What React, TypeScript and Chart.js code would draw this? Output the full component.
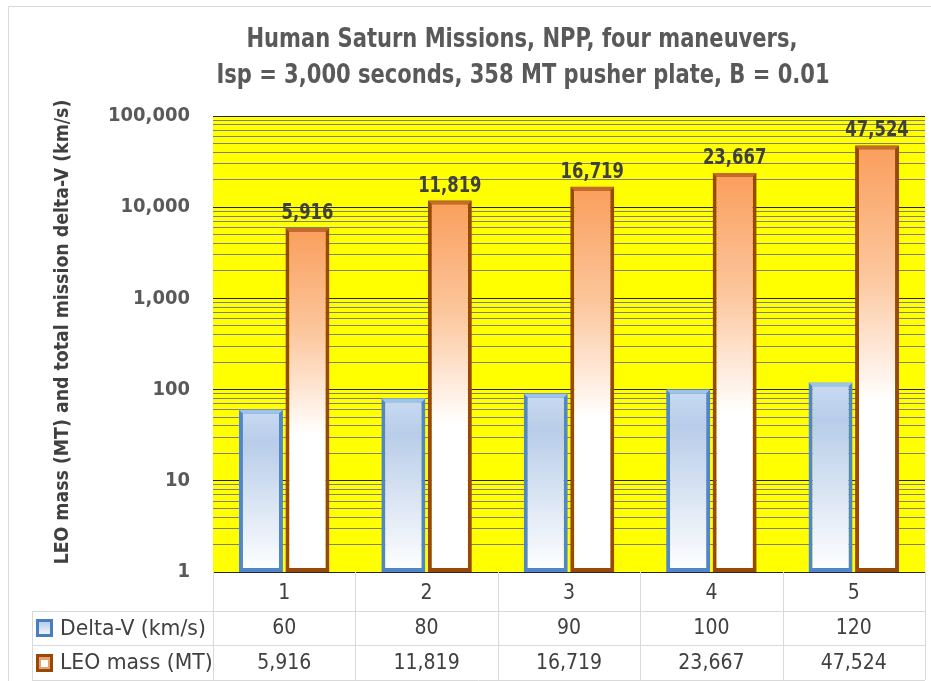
import React, { useEffect, useRef } from 'react';
import { Chart, registerables } from 'chart.js';

Chart.register(...registerables);

const categories = ['1', '2', '3', '4', '5'];
const deltaV = [60, 80, 90, 100, 120];
const leoMass = [5916, 11819, 16719, 23667, 47524];
const seriesNames = ['Delta-V (km/s)', 'LEO mass (MT)'];
const titleLines = [
  'Human Saturn Missions, NPP, four maneuvers,',
  'Isp = 3,000 seconds, 358 MT pusher plate, B = 0.01',
];
const yAxisTitle = 'LEO mass (MT) and total mission delta-V (km/s)';
const yTickValues = [1, 10, 100, 1000, 10000, 100000];

const FONT = '"Liberation Sans Narrow", "DejaVu Sans Condensed", "Open Sans", sans-serif';
const fmt = (v: number) => v.toLocaleString('en-US');

function drawText(ctx: any, text: string, x: number, y: number, font: string, color: string,
  align: string, baseline: string, sx: number) {
  ctx.save();
  ctx.translate(x, y);
  ctx.scale(sx, 1);
  ctx.font = font;
  ctx.fillStyle = color;
  ctx.textAlign = align;
  ctx.textBaseline = baseline;
  ctx.fillText(text, 0, 0);
  ctx.restore();
}

function gradientFor(ctx: any, kind: 'blue' | 'orange') {
  const chart = ctx.chart;
  const area = chart.chartArea;
  const fallback = kind === 'blue' ? '#c6d9f1' : '#f9b07a';
  if (!area || ctx.type !== 'data') return fallback;
  const yScale = chart.scales.y;
  const top = yScale.getPixelForValue(ctx.raw);
  const bottom = area.bottom;
  if (!isFinite(top)) return fallback;
  const g = chart.ctx.createLinearGradient(0, top, 0, bottom);
  if (kind === 'blue') {
    g.addColorStop(0, '#c9dbf2');
    g.addColorStop(0.2, '#b8cde9');
    g.addColorStop(1, '#ffffff');
  } else {
    g.addColorStop(0, '#fa9e5c');
    g.addColorStop(0.3, '#fcc69c');
    g.addColorStop(0.6, '#ffffff');
    g.addColorStop(1, '#ffffff');
  }
  return g;
}

const decorPlugin = {
  id: 'decor',
  beforeDraw(chart: any) {
    const { ctx, chartArea: a } = chart;
    ctx.save();
    ctx.fillStyle = '#ffffff';
    ctx.fillRect(0, 0, chart.width, chart.height);
    ctx.fillStyle = '#ffff00';
    ctx.fillRect(a.left, a.top, a.right - a.left, a.bottom - a.top);
    ctx.restore();
  },
  afterDatasetsDraw(chart: any) {
    const { ctx } = chart;
    ctx.save();
    chart.data.datasets.forEach((ds: any, di: number) => {
      const meta = chart.getDatasetMeta(di);
      meta.data.forEach((bar: any) => {
        const l = bar.x - bar.width / 2;
        const r = bar.x + bar.width / 2;
        const t = bar.y;
        ctx.fillStyle = di === 0 ? '#9cc2ee' : '#c46a2c';
        ctx.beginPath();
        ctx.moveTo(l, t);
        ctx.lineTo(r, t);
        ctx.lineTo(r - 4, t + 4);
        ctx.lineTo(l + 4, t + 4);
        ctx.closePath();
        ctx.fill();
      });
    });
    const meta = chart.getDatasetMeta(1);
    meta.data.forEach((bar: any, i: number) => {
      drawText(ctx, fmt(leoMass[i]), bar.x, bar.y - 9, `bold 21px ${FONT}`, '#404040',
        'center', 'alphabetic', 0.87);
    });
    ctx.restore();
  },
  afterDraw(chart: any) {
    const { ctx, chartArea: a } = chart;
    ctx.save();
    ctx.strokeStyle = '#d9d9d9';
    ctx.lineWidth = 1;
    ctx.beginPath();
    ctx.moveTo(8.5, chart.height);
    ctx.lineTo(8.5, 6.5);
    ctx.lineTo(chart.width, 6.5);
    ctx.stroke();

    drawText(ctx, titleLines[0], 522, 47, `bold 26px ${FONT}`, '#595959', 'center', 'alphabetic', 0.9);
    drawText(ctx, titleLines[1], 523, 83, `bold 26px ${FONT}`, '#595959', 'center', 'alphabetic', 0.9);

    ctx.save();
    ctx.translate(63, 332);
    ctx.rotate(-Math.PI / 2);
    drawText(ctx, yAxisTitle, 0, 0, `bold 20px ${FONT}`, '#404040', 'center', 'middle', 0.965);
    ctx.restore();

    const colW = (a.right - a.left) / categories.length;
    const r1 = a.bottom + 39;
    const r2 = a.bottom + 73;
    const r3 = a.bottom + 108;
    const tableLeft = 32;
    ctx.strokeStyle = '#d9d9d9';
    ctx.lineWidth = 1;
    ctx.beginPath();
    for (let i = 0; i <= categories.length; i++) {
      const x = Math.round(a.left + i * colW) + 0.5;
      ctx.moveTo(x, a.bottom);
      ctx.lineTo(x, r3);
    }
    [r1, r2, r3].forEach((y) => {
      ctx.moveTo(tableLeft, Math.round(y) + 0.5);
      ctx.lineTo(a.right, Math.round(y) + 0.5);
    });
    ctx.moveTo(tableLeft + 0.5, r1);
    ctx.lineTo(tableLeft + 0.5, r3);
    ctx.stroke();

    const rows = [
      { name: seriesNames[0], values: deltaV, y: (r1 + r2) / 2, kind: 'blue' },
      { name: seriesNames[1], values: leoMass, y: (r2 + r3) / 2, kind: 'orange' },
    ];
    rows.forEach((row) => {
      const kx = 36;
      const ky = Math.round(row.y - 9);
      if (row.kind === 'blue') {
        ctx.fillStyle = '#4a7ebb';
        ctx.fillRect(kx, ky, 17, 18);
        const g = ctx.createLinearGradient(0, ky + 3, 0, ky + 15);
        g.addColorStop(0, '#b8cde9');
        g.addColorStop(1, '#eef4fc');
        ctx.fillStyle = g;
        ctx.fillRect(kx + 3, ky + 3, 11, 12);
      } else {
        ctx.fillStyle = '#984807';
        ctx.fillRect(kx, ky, 17, 18);
        ctx.fillStyle = '#e9a26e';
        ctx.fillRect(kx + 3, ky + 3, 11, 12);
        ctx.fillStyle = '#ffffff';
        ctx.fillRect(kx + 5, ky + 6, 7, 7);
      }
      drawText(ctx, row.name, 60, row.y + 1, `22px ${FONT}`, '#404040', 'left', 'middle', 1.03);
      row.values.forEach((v, i) => {
        drawText(ctx, fmt(v), a.left + colW * (i + 0.5), row.y + 1, `21px ${FONT}`, '#404040',
          'center', 'middle', 1);
      });
    });
    ctx.restore();
  },
};

export default function App() {
  const ref = useRef<HTMLCanvasElement | null>(null);
  useEffect(() => {
    if (!ref.current) return;
    const chart = new Chart(ref.current, {
      type: 'bar',
      data: {
        labels: categories,
        datasets: [
          {
            label: seriesNames[0],
            data: deltaV,
            backgroundColor: (c: any) => gradientFor(c, 'blue'),
            borderColor: '#4f86cc',
            borderWidth: 4,
            borderSkipped: false,
            categoryPercentage: 0.653,
            barPercentage: 0.946,
          },
          {
            label: seriesNames[1],
            data: leoMass,
            backgroundColor: (c: any) => gradientFor(c, 'orange'),
            borderColor: '#984807',
            borderWidth: 4,
            borderSkipped: false,
            categoryPercentage: 0.653,
            barPercentage: 0.946,
          },
        ],
      },
      options: {
        animation: false,
        responsive: false,
        layout: { padding: { top: 116, right: 6, left: 0, bottom: 0 } },
        plugins: {
          legend: { display: false },
          title: { display: false },
          tooltip: { enabled: false },
        },
        scales: {
          x: {
            grid: { display: false, drawTicks: false },
            border: { display: false },
            ticks: {
              color: '#404040',
              font: { family: FONT, size: 21 },
              padding: 9,
            },
            afterFit(scale: any) {
              scale.height = 109;
              scale.paddingLeft = 0;
              scale.paddingRight = 0;
            },
          },
          y: {
            type: 'logarithmic',
            min: 1,
            max: 100000,
            border: { display: false },
            grid: {
              drawTicks: false,
              lineWidth: 1,
              color: (c: any) =>
                c.tick && yTickValues.includes(c.tick.value) ? '#262626' : '#7f7f7f',
            },
            afterBuildTicks(scale: any) {
              const t: any[] = [];
              for (let d = 0; d < yTickValues.length - 1; d++) {
                for (let m = 1; m <= 9; m++) t.push({ value: yTickValues[d] * m });
              }
              t.push({ value: yTickValues[yTickValues.length - 1] });
              scale.ticks = t;
            },
            ticks: {
              autoSkip: false,
              color: '#595959',
              font: { family: FONT, size: 20, weight: 'bold' },
              padding: 23,
              callback: (v: any) => (yTickValues.includes(Number(v)) ? fmt(Number(v)) : ''),
            },
            afterFit(scale: any) {
              scale.width = 213;
              scale.paddingTop = 0;
              scale.paddingBottom = 0;
            },
          },
        },
      },
      plugins: [decorPlugin],
    } as any);
    return () => chart.destroy();
  }, []);
  return (
    <div style={{ position: 'absolute', left: 0, top: 0, width: 931, height: 681 }}>
      <canvas ref={ref} width={931} height={681} style={{ display: 'block' }} />
    </div>
  );
}
